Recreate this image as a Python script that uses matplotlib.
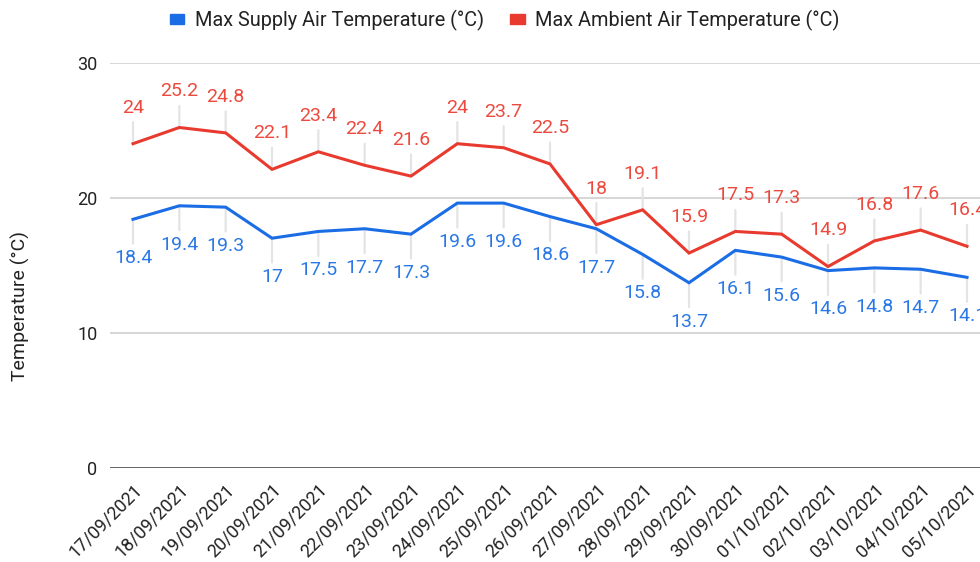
import matplotlib
matplotlib.use('Agg')
from matplotlib import pyplot as plt
import matplotlib.patches as mpatches

plt.rcParams['font.family'] = ['Roboto', 'DejaVu Sans']

dates = ['17/09/2021', '18/09/2021', '19/09/2021', '20/09/2021', '21/09/2021',
         '22/09/2021', '23/09/2021', '24/09/2021', '25/09/2021', '26/09/2021',
         '27/09/2021', '28/09/2021', '29/09/2021', '30/09/2021', '01/10/2021',
         '02/10/2021', '03/10/2021', '04/10/2021', '05/10/2021']
supply = [18.4, 19.4, 19.3, 17, 17.5, 17.7, 17.3, 19.6, 19.6, 18.6,
          17.7, 15.8, 13.7, 16.1, 15.6, 14.6, 14.8, 14.7, 14.1]
ambient = [24, 25.2, 24.8, 22.1, 23.4, 22.4, 21.6, 24, 23.7, 22.5,
           18, 19.1, 15.9, 17.5, 17.3, 14.9, 16.8, 17.6, 16.4]
yticks = [0, 10, 20, 30]

blue = '#1a6de4'
red = '#e83a2e'
blue_txt = '#2a78e6'
red_txt = '#ec4a3e'

fig = plt.figure(figsize=(9.8, 5.62), dpi=100)
W, H = 980, 562
ax = fig.add_axes([110 / W, 1 - 467.7 / H, 1 - 110 / W, (467.7 - 62.7) / H])

x = list(range(len(dates)))
ax.plot(x, supply, color=blue, lw=2.2, zorder=4, solid_joinstyle='miter')
ax.plot(x, ambient, color=red, lw=2.2, zorder=4, solid_joinstyle='miter')

def fmt(v):
    return ('%g' % v)

for i, v in enumerate(ambient):
    ax.annotate(fmt(v), (i, v), xytext=(0, 26), textcoords='offset points',
                ha='center', va='center', fontsize=14, color=red_txt,
                annotation_clip=False, zorder=2,
                arrowprops=dict(arrowstyle='-', color='#e4e4e4', lw=1.6,
                                shrinkA=2, shrinkB=0, relpos=(0.5, 0)))
for i, v in enumerate(supply):
    ax.annotate(fmt(v), (i, v), xytext=(0, -28), textcoords='offset points',
                ha='center', va='center', fontsize=14, color=blue_txt,
                annotation_clip=False, zorder=2,
                arrowprops=dict(arrowstyle='-', color='#e4e4e4', lw=1.6,
                                shrinkA=2, shrinkB=0, relpos=(0.5, 1)))

# x range so that first/last points land where the reference has them
px_per = (967 - 133) / 18
xmin = -(133 - 110) / px_per
xmax = xmin + (W - 110) / px_per
ax.set_xlim(xmin, xmax)
ax.set_ylim(0, 30)

ax.set_yticks(yticks)
ax.set_yticklabels([str(t) for t in yticks])
ax.set_xticks(x)
ax.set_xticklabels(dates, rotation=45, ha='right', va='top',
                   rotation_mode='anchor', fontsize=13)
ax.tick_params(axis='both', length=0, labelcolor='#222222')
ax.tick_params(axis='y', pad=9, labelsize=13)
ax.tick_params(axis='x', pad=9)

ax.grid(axis='y', color='#cccccc', lw=1.1, zorder=0)
ax.axhline(0, color='#444444', lw=1.8, zorder=3)
for s in ax.spines.values():
    s.set_visible(False)
ax.set_axisbelow(True)

fig.text(20 / W, 1 - 306 / H, 'Temperature (°C)', rotation=90,
         ha='center', va='center', fontsize=14, color='#222222')

handles = [mpatches.Patch(color=blue, label='Max Supply Air Temperature (°C)'),
           mpatches.Patch(color=red, label='Max Ambient Air Temperature (°C)')]
fig.legend(handles=handles, loc='center', bbox_to_anchor=(505 / W, 1 - 20 / H),
           ncol=2, frameon=False, fontsize=14.3, handlelength=0.72,
           handleheight=0.38, handletextpad=0.55, columnspacing=1.3,
           labelcolor='#222222')

fig.savefig('out.png', dpi=100)
